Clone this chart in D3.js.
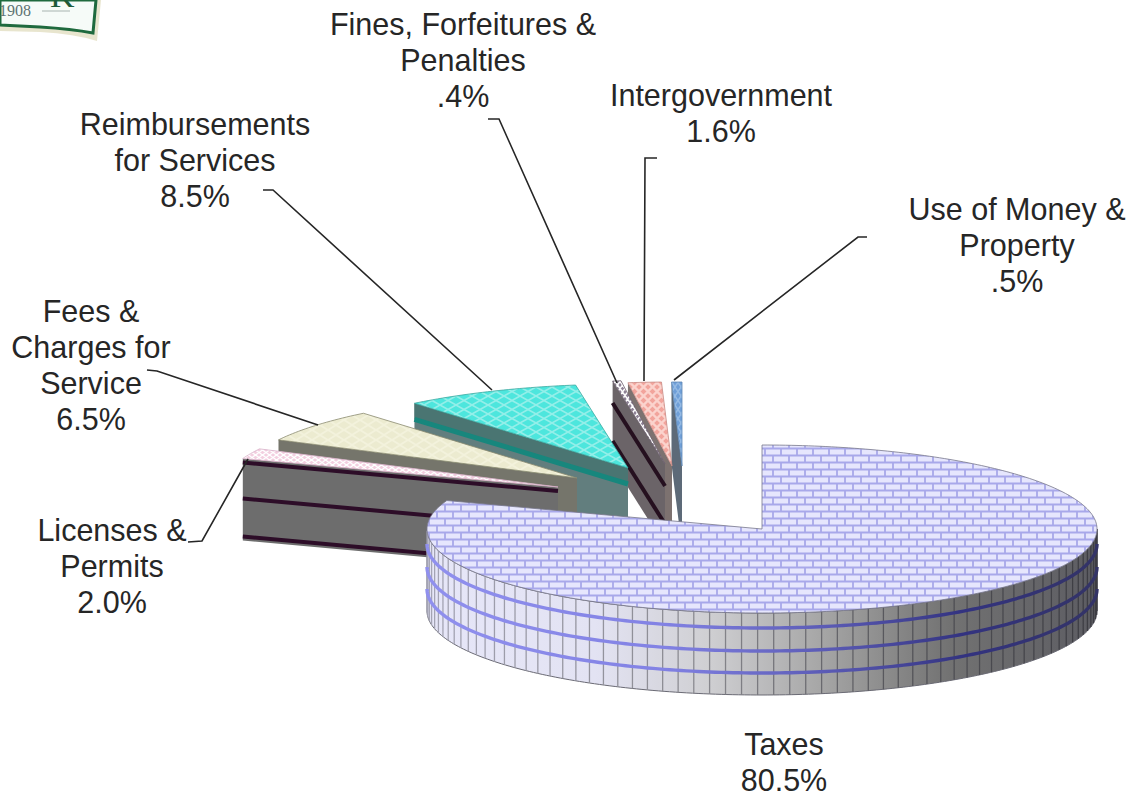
<!DOCTYPE html>
<html>
<head>
<meta charset="utf-8">
<script src="https://cdn.jsdelivr.net/npm/d3@7/dist/d3.min.js"></script>
<style>
html,body{margin:0;padding:0;background:#fff;overflow:hidden}
svg{display:block}
text{font-family:"Liberation Sans",Arial,sans-serif;fill:#262626}
</style>
</head>
<body>
<svg id="chart" width="1133" height="794"></svg>
<script>
// Revenue shares, clockwise from twelve o'clock
const categories = ["Taxes","Licenses & Permits","Fees & Charges for Service","Reimbursements for Services","Fines, Forfeitures & Penalties","Intergovernment","Use of Money & Property"];
const shares = [80.5,2.0,6.5,8.5,0.4,1.6,0.5];

// Wrapped label lines for each category
const labelLines = [["Taxes"],["Licenses &","Permits"],["Fees &","Charges for","Service"],["Reimbursements","for Services"],["Fines, Forfeitures &","Penalties"],["Intergovernment"],["Use of Money &","Property"]];

// Layout: pie apex of each exploded slice, label anchor and leader polyline
const apexes = [[762,529],[558,487],[577,478],[628,468],[665,464],[672,466],[682,466]];
const labelAnchors = [[784,755],[112,541],[91,322],[195,135],[463,35],[721,106],[1017,220]];
const leaders = [null,[[188,542],[202,541],[248,459]],[[147,370],[157,371],[318,425]],[[263,190],[273,190],[492,390]],[[488,119],[499,119],[617,383]],[[657,158],[645,158],[644,381]],[[867,237],[858,237],[674,380]]];

const RX = 335, RY = 84, DEPTH = 82, LINE_H = 36;
const rad = d => d * Math.PI / 180;
const sx = d3.scaleLinear().domain([-1,1]).range([-RX,RX]);
const sy = d3.scaleLinear().domain([-1,1]).range([-RY,RY]);
const slices = d3.pie().sort(null).value(d => d)(shares);

const svg = d3.select("#chart");
const defs = svg.append("defs");

// Hatch fills used on the top faces
function lattice(id, bg, line, w, h, sw){
  const p = defs.append("pattern").attr("id",id).attr("patternUnits","userSpaceOnUse").attr("width",w).attr("height",h);
  p.append("rect").attr("width",w).attr("height",h).attr("fill",bg);
  p.append("path").attr("d",`M0,${h/2}L${w/2},0L${w},${h/2}L${w/2},${h}Z`).attr("fill","none").attr("stroke",line).attr("stroke-width",sw);
}
lattice("pReimb","#4de6dd","#93efe9",16,9,1.6);
lattice("pFees","#ecebd0","#f3f2dc",16,10,2);
lattice("pLic","#f3cfe0","#ffffff",7,5,1.4);
lattice("pInter","#f2a49c","#fbd3cd",9,9,2.4);
lattice("pFines","#8f8296","#ffffff",5,7,1.4);
lattice("pUse","#6f9fd8","#94bae4",6,9,1.5);

const brick = defs.append("pattern").attr("id","pBrick").attr("patternUnits","userSpaceOnUse").attr("width",16).attr("height",14).attr("x",761).attr("y",445);
brick.append("rect").attr("width",16).attr("height",14).attr("fill","#e6e6fd");
brick.append("path").attr("d","M0,3.5H16M0,10.5H16M4,3.5V10.5M12,10.5V14M12,0V3.5").attr("fill","none").attr("stroke","#a8a8ea").attr("stroke-width",1.8);

// Shading round the outer wall of the largest slice, light on the left, dark on the right
function wallGradient(id, stops){
  const g = defs.append("linearGradient").attr("id",id).attr("gradientUnits","userSpaceOnUse").attr("x1",428).attr("x2",1097).attr("y1",0).attr("y2",0);
  stops.forEach(([o,c]) => g.append("stop").attr("offset",o).attr("stop-color",c));
}
wallGradient("gWall",[[0,"#e6e6f8"],[0.25,"#e3e3f3"],[0.42,"#cfcfd2"],[0.58,"#a8a8a8"],[0.78,"#727272"],[1,"#5c5c62"]]);
wallGradient("gBand",[[0,"#9090ee"],[0.35,"#8282e4"],[0.6,"#5a5ab4"],[0.8,"#333380"],[1,"#333366"]]);
wallGradient("gRib",[[0,"#a4a4b4"],[0.4,"#8a8a90"],[0.7,"#55555a"],[1,"#3c3c42"]]);

const rimPoint = (c, a, dz=0) => [c[0]+sx(Math.sin(a)), c[1]-sy(Math.cos(a))+dz];
const line = d3.line();

function sweep(a0, a1){
  const n = Math.max(2, Math.ceil(Math.abs(a1-a0)/rad(1)));
  return d3.range(n+1).map(i => a0+(a1-a0)*i/n);
}

// Cut face of a slice, a sheared band under its starting edge, with its coloured stripes
function cutFace(c, a, fill, shoulder, stripes, stripeColor, stripeW){
  const p = rimPoint(c,a);
  svg.append("path").attr("d",line([p,c,[c[0],c[1]+DEPTH],[p[0],p[1]+DEPTH]])+"Z").attr("fill",fill);
  if (shoulder) svg.append("path").attr("d",line([p,c,[c[0],c[1]+stripes[0]],[p[0],p[1]+stripes[0]]])+"Z").attr("fill",shoulder);
  stripes.forEach(dz => svg.append("path")
    .attr("d",line([[p[0],p[1]+dz],[c[0],c[1]+dz]]))
    .attr("stroke",stripeColor).attr("stroke-width",stripeW).attr("fill","none"));
}
function topFace(c, a0, a1, fill, edge){
  const pts = [c].concat(sweep(a0,a1).map(a => rimPoint(c,a)));
  svg.append("path").attr("d",line(pts)+"Z").attr("fill",fill).attr("stroke",edge).attr("stroke-width",0.8);
}

// Slice styling, in slice order
const faceFill = ["url(#pBrick)","url(#pLic)","url(#pFees)","url(#pReimb)","url(#pFines)","url(#pInter)","url(#pUse)"];
const edgeFill = ["#77778a","#d8b0c8","#8a8a70","#3aa8a0","#6e6270","#c88a84","#5d86b4"];
const cutFill  = [null,"#6d6d6d","#75756b","#627e7e","#6b6468","#7d7270","#5d6a78"];
const cutShoulder = [null,null,null,"#4a7572",null,null,null];
const cutBands = [null,[4,40,78],[],[16,72],[22,60],[],[]];
const cutBandColor = [null,"#2d0d28",null,"#17877d","#25101f",null,null];

// Paint from the back of the scene forward, the big slice last
[6,5,4,3,2,1].forEach(i => {
  const s = slices[i], c = apexes[i];
  cutFace(c,s.startAngle,cutFill[i],cutShoulder[i],cutBands[i],cutBandColor[i],i===3?5:4);
  topFace(c,s.startAngle,s.endAngle,faceFill[i],edgeFill[i]);
});

// Largest slice: outer wall with ribs and horizontal bands, then its top face
{
  const s = slices[0], c = apexes[0];
  const arc = sweep(rad(90),rad(270));
  const outer = arc.map(a => rimPoint(c,a)).concat(arc.slice().reverse().map(a => rimPoint(c,a,DEPTH)));
  svg.append("path").attr("d",line(outer)+"Z").attr("fill","url(#gWall)").attr("stroke","#6a6a74").attr("stroke-width",1);
  d3.range(rad(90),rad(270),rad(2.75)).forEach(a => {
    svg.append("path").attr("d",line([rimPoint(c,a),rimPoint(c,a,DEPTH)])).attr("stroke","url(#gRib)").attr("stroke-width",1.3);
  });
  [15,38,60].forEach(dz => {
    svg.append("path").attr("d",line(arc.map(a => rimPoint(c,a,dz)))).attr("fill","none").attr("stroke","url(#gBand)").attr("stroke-width",3.4);
  });
  topFace(c,s.startAngle,s.endAngle,faceFill[0],edgeFill[0]);
}

// Leader lines
leaders.forEach(pts => {
  if (pts) svg.append("path").attr("d",line(pts)).attr("fill","none").attr("stroke","#262626").attr("stroke-width",1.6);
});

// Category names with their share beneath
const pct = v => `${v.toFixed(1)}%`.replace(/^0/,"");
slices.forEach((s,i) => {
  const rows = labelLines[i].concat(pct(shares[i]));
  const t = svg.append("text").attr("text-anchor","middle").attr("font-size",30.5);
  rows.forEach((r,k) => t.append("tspan").attr("x",labelAnchors[i][0]).attr("y",labelAnchors[i][1]+k*LINE_H).text(r));
});

// Corner of the organisation's crest
const crest = svg.append("g");
crest.append("path").attr("d","M0,31L40,32Q75,34 97,41L101,0H0Z").attr("fill","#d9d3ae").attr("opacity",0.6);
crest.append("path").attr("d","M0,25L40,27Q72,29 93,33L96,0H0Z").attr("fill","#f6fbf8").attr("stroke","#1f6a3e").attr("stroke-width",3);
crest.append("text").attr("x",-1).attr("y",16).attr("font-size",16).style("font-family","'Liberation Serif',serif").style("fill","#5d7272").text("1908");
crest.append("path").attr("d","M42,11H70").attr("stroke","#a8b4b0").attr("stroke-width",1);
crest.append("text").attr("x",50).attr("y",7).attr("font-size",34).style("font-family","'Liberation Serif',serif").style("fill","#1d5a3a").text("K");
</script>
</body>
</html>
